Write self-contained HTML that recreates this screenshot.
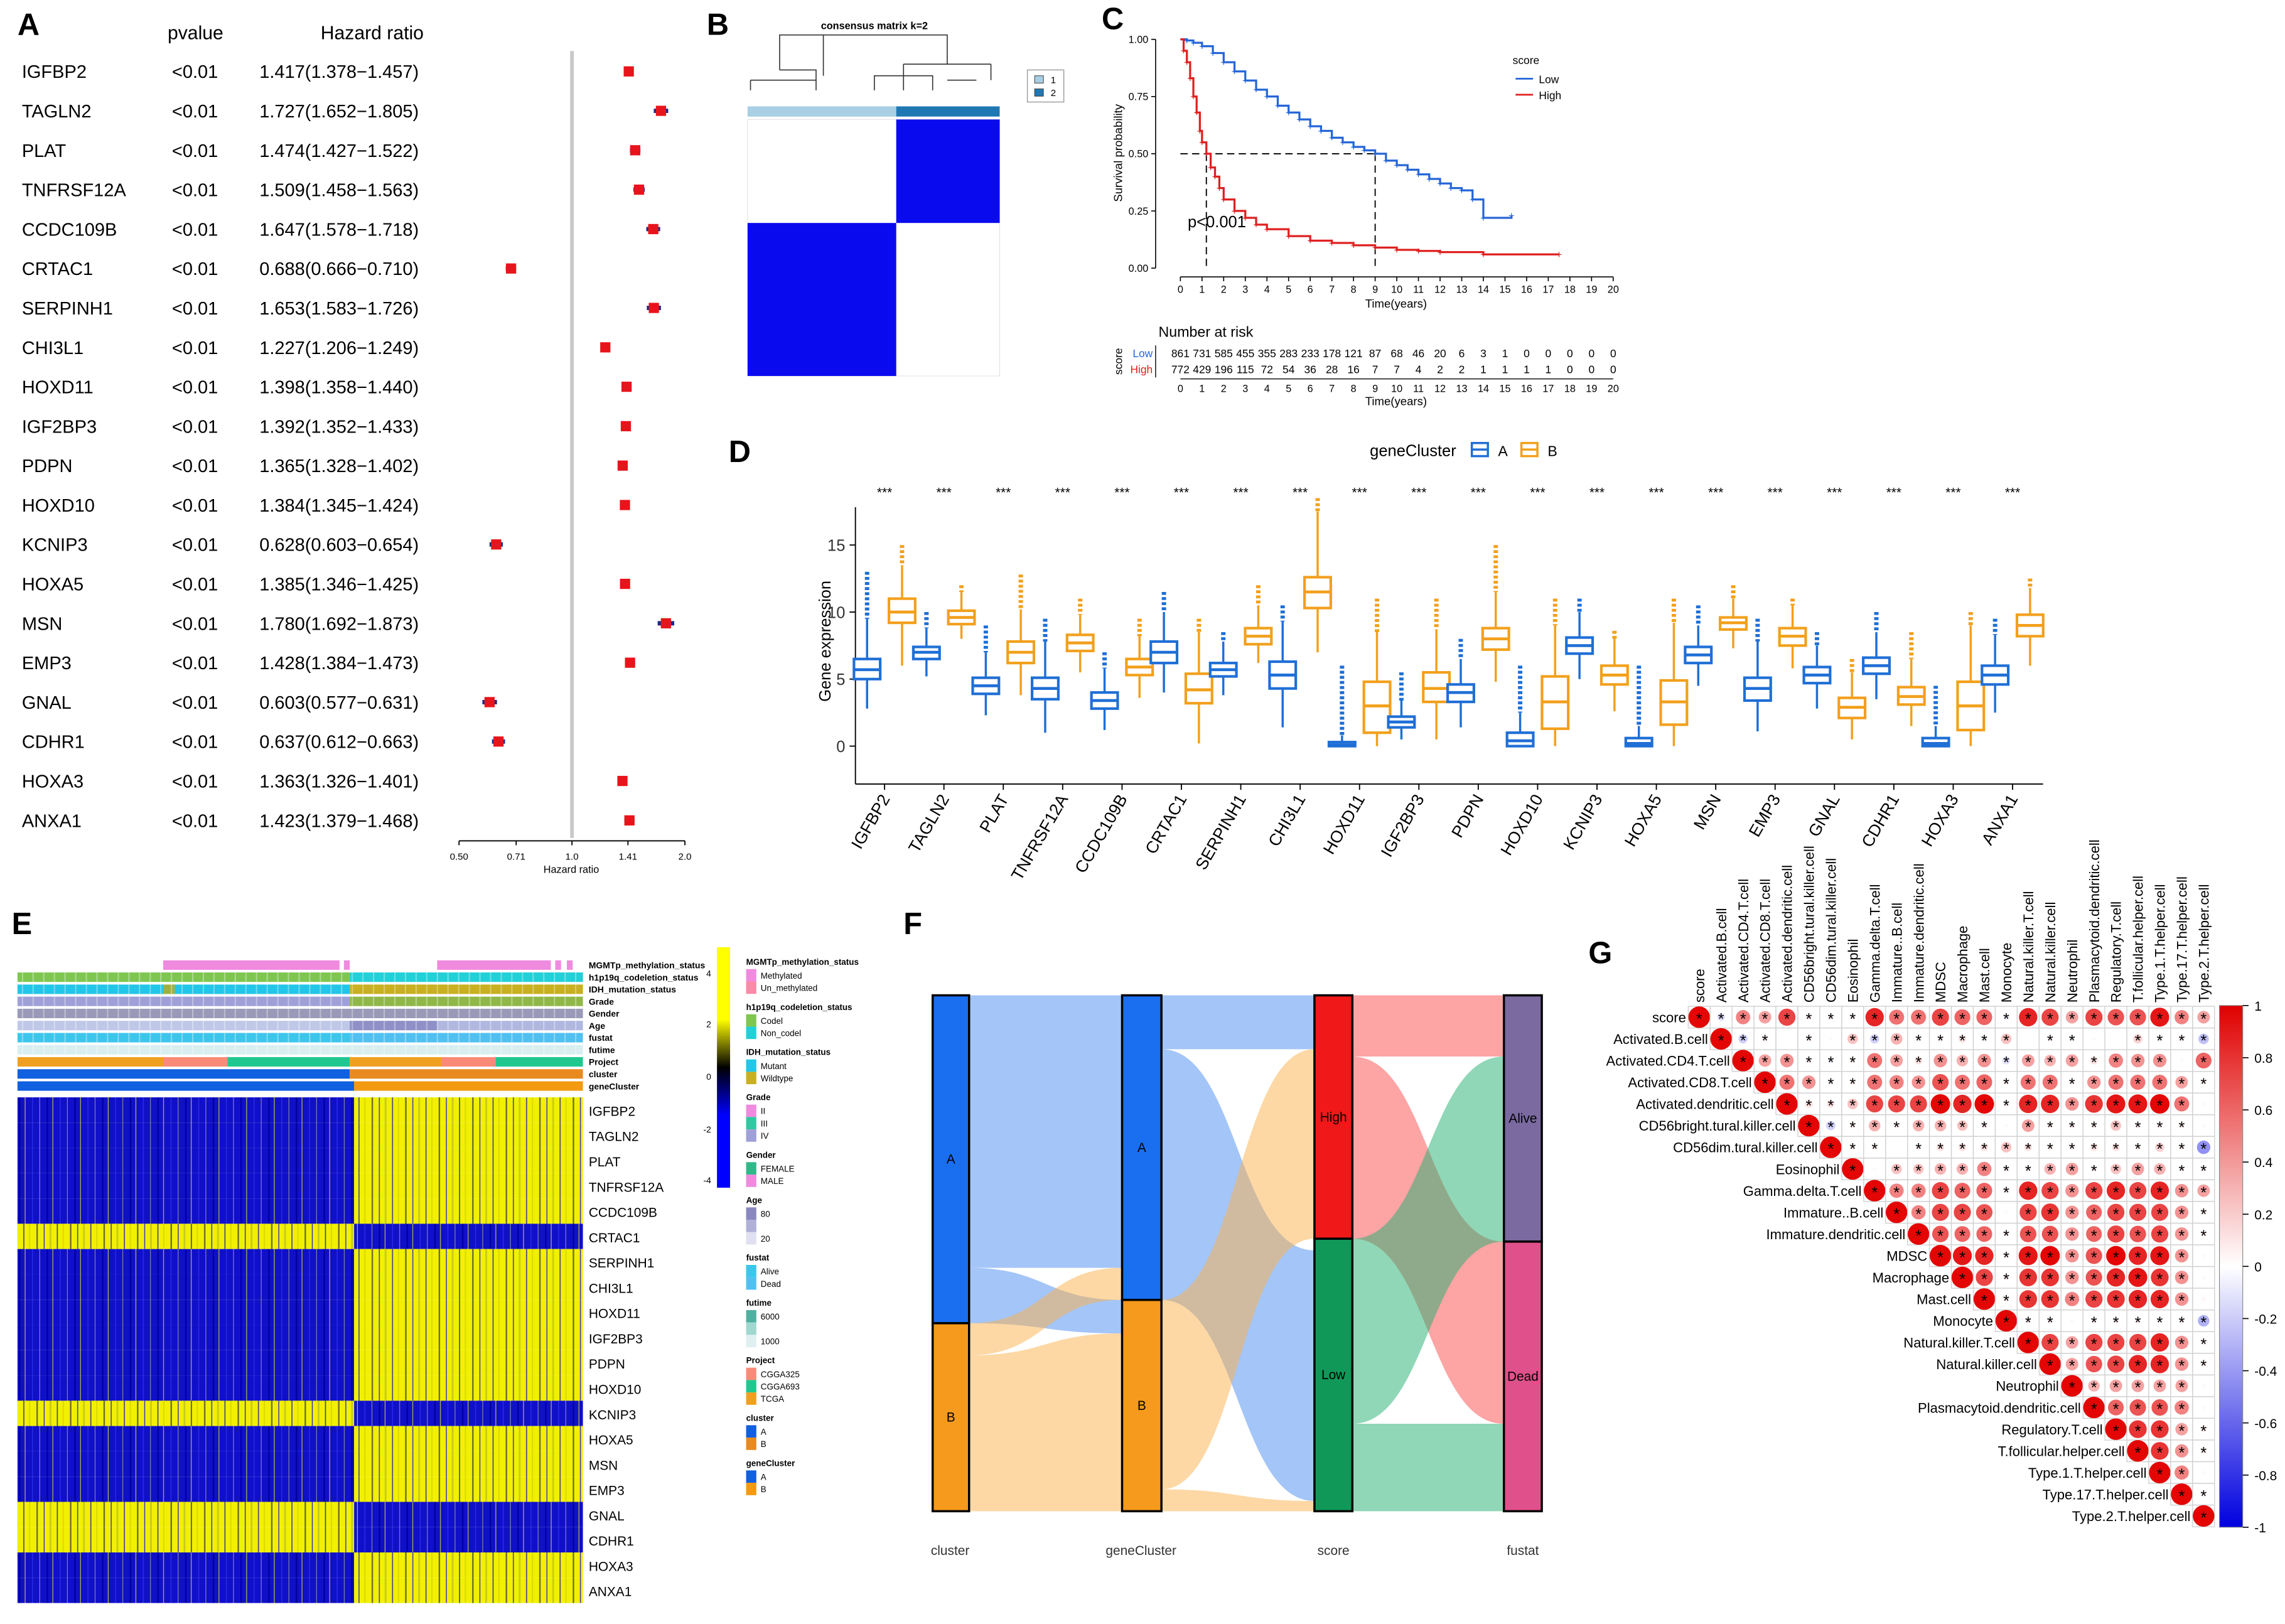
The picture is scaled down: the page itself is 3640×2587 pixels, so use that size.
<!DOCTYPE html>
<html><head><meta charset="utf-8"><style>
html,body{margin:0;padding:0;background:#fff}
svg{display:block;font-family:"Liberation Sans",Arial,sans-serif}
</style></head><body>
<svg id="fig" width="3640" height="2587" viewBox="0 0 1568 1114.4" xmlns="http://www.w3.org/2000/svg">
<defs>
<pattern id="hiPat" width="23" height="10" patternUnits="userSpaceOnUse"><rect width="23" height="10" fill="#f2f000"/><rect x="2" width="1" height="10" fill="#6a6a30"/><rect x="7" width="0.6" height="10" fill="#2a2ad0"/><rect x="11" width="1.2" height="10" fill="#c8c820"/><rect x="16" width="0.7" height="10" fill="#40408a"/><rect x="20" width="0.8" height="10" fill="#d8d800"/></pattern>
<pattern id="loPat" width="19" height="10" patternUnits="userSpaceOnUse"><rect width="19" height="10" fill="#1010c8"/><rect x="3" width="0.7" height="10" fill="#2828e8"/><rect x="8" width="0.5" height="10" fill="#8888a0"/><rect x="13" width="1" height="10" fill="#0000a0"/><rect x="17" width="0.5" height="10" fill="#c0c040"/></pattern>
<linearGradient id="hmBar" x1="0" y1="0" x2="0" y2="1"><stop offset="0" stop-color="#ffff00"/><stop offset="0.3" stop-color="#ffff00"/><stop offset="0.5" stop-color="#000"/><stop offset="0.7" stop-color="#0000ff"/><stop offset="1" stop-color="#0000ff"/></linearGradient>
<linearGradient id="corBar" x1="0" y1="0" x2="0" y2="1"><stop offset="0" stop-color="#e00000"/><stop offset="0.5" stop-color="#ffffff"/><stop offset="1" stop-color="#0000e0"/></linearGradient>
</defs>
<g id="root"></g>
</svg>
<script>
// ---------- Panel A data ----------
const genesA=["IGFBP2","TAGLN2","PLAT","TNFRSF12A","CCDC109B","CRTAC1","SERPINH1","CHI3L1","HOXD11","IGF2BP3","PDPN","HOXD10","KCNIP3","HOXA5","MSN","EMP3","GNAL","CDHR1","HOXA3","ANXA1"];
const hrVals=[1.417,1.727,1.474,1.509,1.647,0.688,1.653,1.227,1.398,1.392,1.365,1.384,0.628,1.385,1.780,1.428,0.603,0.637,1.363,1.423];
const hrLow=[1.378,1.652,1.427,1.458,1.578,0.666,1.583,1.206,1.358,1.352,1.328,1.345,0.603,1.346,1.692,1.384,0.577,0.612,1.326,1.379];
const hrHigh=[1.457,1.805,1.522,1.563,1.718,0.710,1.726,1.249,1.440,1.433,1.402,1.424,0.654,1.425,1.873,1.473,0.631,0.663,1.401,1.468];
const hrTicks=[0.5,0.71,1.0,1.41,2.0];
const hrTickLabels=["0.50","0.71","1.0","1.41","2.0"];
// ---------- Panel C data ----------
const kmLowT=[0,0.3,0.6,1,1.5,2,2.5,3,3.5,4,4.5,5,5.5,6,6.5,7,7.5,8,8.5,9,9.5,10,10.5,11,11.5,12,12.5,13,13.5,14,15.3];
const kmLowS=[1,0.995,0.985,0.97,0.94,0.9,0.86,0.82,0.78,0.75,0.71,0.68,0.65,0.62,0.6,0.57,0.55,0.53,0.515,0.5,0.47,0.45,0.43,0.41,0.39,0.37,0.35,0.34,0.3,0.22,0.23];
const kmHighT=[0,0.15,0.3,0.45,0.6,0.75,0.9,1,1.2,1.4,1.6,1.8,2,2.5,3,3.5,4,5,6,7,8,9,10,11,12,14,17.5];
const kmHighS=[1,0.95,0.9,0.83,0.75,0.68,0.6,0.55,0.5,0.44,0.4,0.35,0.3,0.25,0.22,0.19,0.17,0.14,0.12,0.11,0.1,0.09,0.08,0.075,0.07,0.06,0.06];
const riskLow=[861,731,585,455,355,283,233,178,121,87,68,46,20,6,3,1,0,0,0,0,0];
const riskHigh=[772,429,196,115,72,54,36,28,16,7,7,4,2,2,1,1,1,1,0,0,0];
// ---------- Panel D data ----------
const medA=[5.7,7.0,4.5,4.3,3.4,7.0,5.7,5.3,0.1,1.8,4.0,0.4,7.5,0.2,6.8,4.3,5.3,6.0,0.2,5.3];
const q1A=[5.0,6.5,3.9,3.5,2.8,6.2,5.2,4.3,0,1.4,3.3,0,6.9,0,6.2,3.4,4.7,5.4,0,4.6];
const q3A=[6.5,7.4,5.1,5.1,4.0,7.8,6.2,6.3,0.3,2.2,4.6,1.0,8.1,0.6,7.4,5.1,5.9,6.6,0.6,6.0];
const loA=[2.8,5.2,2.3,1.0,1.2,4.0,3.8,1.4,0,0.5,1.4,0,5.0,0,4.5,1.1,2.8,3.5,0,2.5];
const hiA=[9.5,8.8,7.0,7.8,5.8,10,7.8,9.3,0.8,3.4,6.5,2.5,10,1.5,9.0,7.8,7.5,8.5,1.5,8.3];
const medB=[10.0,9.6,7.0,7.7,5.9,4.2,8.2,11.5,3.0,4.3,8.0,3.3,5.3,3.3,9.2,8.2,2.9,3.7,3.0,9.0];
const q1B=[9.2,9.1,6.2,7.1,5.3,3.2,7.6,10.3,1.0,3.3,7.2,1.3,4.6,1.6,8.7,7.5,2.1,3.1,1.2,8.2];
const q3B=[11.0,10.1,7.8,8.3,6.5,5.4,8.8,12.6,4.8,5.5,8.8,5.2,6.0,4.9,9.6,8.8,3.6,4.4,4.8,9.8];
const loB=[6.0,8.0,3.8,5.5,3.6,0.2,6.2,7.0,0,0.5,4.8,0,2.6,0,7.3,5.8,0.5,1.5,0,6.0];
const hiB=[13.5,11.5,10.2,9.8,8.2,8.5,10.5,17.5,8.5,8.7,11.5,9.0,8.0,9.2,11.0,10.5,5.5,6.5,9.0,11.8];
const outHiA=[13,10,9,9.5,7,11.5,8.5,10.5,6,5.5,8,6,11,6,10.5,9.5,8.5,10,4.5,9.5];
const outHiB=[15,12,12.8,11,9.5,9.5,12,18.5,11,11,15,11,8.6,11,12,11,6.5,8.5,10,12.5];
const yTicksD=[0,5,10,15];
// ---------- Panel E data ----------
const heatDir=[1,1,1,1,1,-1,1,1,1,1,1,1,-1,1,1,1,-1,-1,1,1];
// ---------- Panel G data ----------
const cellNames=["score","Activated.B.cell","Activated.CD4.T.cell","Activated.CD8.T.cell","Activated.dendritic.cell","CD56bright.tural.killer.cell","CD56dim.tural.killer.cell","Eosinophil","Gamma.delta.T.cell","Immature..B.cell","Immature.dendritic.cell","MDSC","Macrophage","Mast.cell","Monocyte","Natural.killer.T.cell","Natural.killer.cell","Neutrophil","Plasmacytoid.dendritic.cell","Regulatory.T.cell","T.follicular.helper.cell","Type.1.T.helper.cell","Type.17.T.helper.cell","Type.2.T.helper.cell"];
const corRows=[
[-0.1,0.4,0.3,0.6,0.05,0.05,0.05,0.7,0.45,0.45,0.6,0.5,0.5,-0.05,0.7,0.6,0.3,0.6,0.55,0.55,0.75,0.4,0.3],
[-0.15,0.05,0,0.05,0.02,0.2,-0.15,0.25,0.05,0.05,0.1,0.05,0.2,0,0.05,0.05,0.02,0,0.15,0.05,0.05,-0.2],
[0.3,0.35,0.05,-0.05,0.05,0.45,0.3,0.1,0.35,0.25,0.35,-0.1,0.3,0.25,0.3,0.1,0.4,0.35,0.35,0.02,0.5],
[0.45,0.35,0.05,0.05,0.45,0.4,0.35,0.55,0.45,0.5,0.05,0.45,0.45,0.05,0.35,0.45,0.45,0.45,0.3,0.05],
[0.1,0.1,0.2,0.6,0.6,0.6,0.8,0.7,0.8,0.05,0.7,0.7,0.35,0.65,0.75,0.75,0.8,0.45,0.02],
[-0.15,0.05,0.25,0.05,0.25,0.25,0.2,0.05,0.02,0.3,0.05,0.05,0.05,0.2,0.05,0.05,0.05,0.02],
[0.05,0.05,0,0.05,0.1,0.1,0.1,0.2,0.1,0.05,0.05,0.1,0.1,0.05,0.15,0.05,-0.35],
[0.02,0.2,0.2,0.25,0.25,0.4,0.05,0.05,0.25,0.3,0.05,0.2,0.3,0.25,0.05,0.05],
[0.4,0.4,0.6,0.5,0.5,0.05,0.7,0.6,0.35,0.6,0.7,0.6,0.7,0.35,0.3],
[0.4,0.6,0.6,0.55,0.02,0.6,0.65,0.35,0.5,0.6,0.6,0.6,0.35,0.05],
[0.55,0.5,0.5,0.05,0.55,0.55,0.35,0.5,0.6,0.55,0.6,0.35,0.05],
[0.75,0.7,0.05,0.75,0.8,0.35,0.55,0.8,0.7,0.75,0.35,0.02],
[0.6,0.05,0.65,0.65,0.35,0.55,0.7,0.75,0.65,0.35,0.02],
[0.05,0.65,0.65,0.4,0.6,0.65,0.7,0.7,0.35,0.03],
[0.05,0.05,0.02,0.05,0.05,0.05,0.05,0.05,-0.25],
[0.6,0.3,0.6,0.6,0.6,0.7,0.35,0.05],
[0.3,0.55,0.6,0.7,0.7,0.35,0.05],
[0.25,0.3,0.3,0.3,0.3,0.02],
[0.5,0.55,0.55,0.4,0.02],
[0.65,0.65,0.3,0.05],
[0.65,0.35,0.05],
[0.4,0.02],
[0.05],
[]
];
const corTicks=[1,0.8,0.6,0.4,0.2,0,-0.2,-0.4,-0.6,-0.8,-1];

const NS="http://www.w3.org/2000/svg";
const root=document.getElementById('root');
function mk(tag,attrs,parent,txt){const e=document.createElementNS(NS,tag);for(const k in attrs)e.setAttribute(k,attrs[k]);if(txt!==undefined)e.textContent=txt;(parent||root).appendChild(e);return e;}
function grp(name){const g=mk('g',{});return g;}
function label(t,x,y,g){const e=mk('text',{x:x,y:y,'font-size':21,'font-weight':'bold'},g,t);}

// ================= Panel A =================
(function(){
const g=grp('panel-a-forest-plot');
label('A',12,24,g);
let t=mk('text',{x:115,y:27,'font-size':13},g,'pvalue');
t=mk('text',{x:220,y:27,'font-size':13},g,'Hazard ratio');
const xs=v=>315+(Math.log2(v)+1)*77.5;
const y0=49,dy=27.05;
mk('line',{x1:xs(1),x2:xs(1),y1:35,y2:575,stroke:'#c8c8c8','stroke-width':2.5},g);
genesA.forEach((gn,i)=>{
 const y=y0+i*dy;
 let e=mk('text',{x:15,y:y+4.5,'font-size':12.5},g,gn);
 e=mk('text',{x:118,y:y+4.5,'font-size':12.5},g,'<0.01');
 e=mk('text',{x:178,y:y+4.5,'font-size':12.5},g,hrVals[i].toFixed(3)+'('+hrLow[i].toFixed(3)+'\u2212'+hrHigh[i].toFixed(3)+')');
 e=mk('line',{x1:xs(hrLow[i]),x2:xs(hrHigh[i]),y1:y,y2:y,stroke:'#1a2a8a','stroke-width':3},g);
 e=mk('rect',{x:xs(hrVals[i])-3.5,y:y-3.5,width:7,height:7,fill:'#e8141c'},g);
});
mk('line',{x1:315,x2:470,y1:577,y2:577,stroke:'#000','stroke-width':0.8},g);
hrTicks.forEach((v,i)=>{mk('line',{x1:xs(v),x2:xs(v),y1:577,y2:580,stroke:'#000','stroke-width':0.8},g);mk('text',{x:xs(v),y:590,'font-size':6.5,'text-anchor':'middle'},g,hrTickLabels[i]);});
mk('text',{x:392,y:599,'font-size':7,'text-anchor':'middle'},g,'Hazard ratio');
})();

// ================= Panel B =================
(function(){
const g=grp('panel-b-consensus-matrix');
label('B',485,24,g);
mk('text',{x:600,y:20,'font-size':7,'font-weight':'bold','text-anchor':'middle'},g,'consensus matrix k=2');
mk('path',{d:'M565,24 V52 M535,48 V24 H650 V44 M620,44 H680 M620,44 V62 M680,44 V55 M515,55 H560 V62 M560,55 V48 H535 M515,55 V62 M600,62 V52 H640 V62 M650,55 H670',stroke:'#333',fill:'none','stroke-width':0.7},g);
mk('rect',{x:513,y:73,width:102,height:7,fill:'#a8cfe3'},g);
mk('rect',{x:615,y:73,width:71,height:7,fill:'#1f78b4'},g);
mk('rect',{x:513,y:82,width:173,height:176,fill:'#fff',stroke:'#ddd','stroke-width':0.4},g);
let e=mk('rect',{x:615,y:82,width:71,height:71,fill:'#0a0aee'},g);
e=mk('rect',{x:513,y:153,width:102,height:105,fill:'#0a0aee'},g);
mk('rect',{x:705,y:48,width:25,height:22,fill:'none',stroke:'#999','stroke-width':0.6},g);
mk('rect',{x:710,y:52,width:6,height:5,fill:'#a8cfe3',stroke:'#333','stroke-width':0.4},g);mk('text',{x:721,y:57,'font-size':6.5},g,'1');
mk('rect',{x:710,y:61,width:6,height:5,fill:'#1f78b4',stroke:'#333','stroke-width':0.4},g);mk('text',{x:721,y:66,'font-size':6.5},g,'2');
})();

// ================= Panel C =================
(function(){
const g=grp('panel-c-km-curve');
label('C',756,20,g);
const X=t=>810+t*14.85, Y=s=>184-s*157;
mk('line',{x1:793,x2:793,y1:27,y2:184,stroke:'#000','stroke-width':0.7},g);
[0,0.25,0.5,0.75,1].forEach(v=>{mk('line',{x1:790,x2:793,y1:Y(v),y2:Y(v),stroke:'#000','stroke-width':0.7},g);mk('text',{x:788,y:Y(v)+2.5,'font-size':7,'text-anchor':'end'},g,v.toFixed(2));});
mk('line',{x1:X(0),x2:X(20),y1:190,y2:190,stroke:'#000','stroke-width':0.7},g);
for(let i=0;i<=20;i++){mk('line',{x1:X(i),x2:X(i),y1:190,y2:193,stroke:'#000','stroke-width':0.7},g);mk('text',{x:X(i),y:201,'font-size':7,'text-anchor':'middle'},g,i);}
mk('text',{x:958,y:211,'font-size':8,'text-anchor':'middle'},g,'Time(years)');
mk('text',{x:770,y:105,'font-size':8,'text-anchor':'middle',transform:'rotate(-90 770 105)'},g,'Survival probability');
mk('path',{d:`M${X(0)},${Y(.5)} H${X(9)} M${X(1.2)},${Y(.5)} V${Y(0)} M${X(9)},${Y(.5)} V${Y(0)}`,stroke:'#000','stroke-dasharray':'5,3',fill:'none','stroke-width':0.8},g);
function step(T,S,col,name){let d=`M${X(T[0])},${Y(S[0])}`;for(let i=1;i<T.length;i++)d+=` H${X(T[i])} V${Y(S[i])}`;const p=mk('path',{d:d,stroke:col,fill:'none','stroke-width':1.4},g);
 for(let i=1;i<T.length;i++){mk('text',{x:X(T[i]),y:Y(S[i])+2.5,'font-size':7,fill:col,'text-anchor':'middle'},g,'+');}}
step(kmLowT,kmLowS,'#2566d8','km-low-curve');step(kmHighT,kmHighS,'#e02020','km-high-curve');
mk('text',{x:815,y:156,'font-size':11},g,'p<0.001');
mk('text',{x:1038,y:44,'font-size':7.5},g,'score');
mk('line',{x1:1040,x2:1052,y1:54,y2:54,stroke:'#2566d8','stroke-width':1.2},g);mk('text',{x:1056,y:57,'font-size':7.5},g,'Low');
mk('line',{x1:1040,x2:1052,y1:65,y2:65,stroke:'#e02020','stroke-width':1.2},g);mk('text',{x:1056,y:68,'font-size':7.5},g,'High');
mk('text',{x:795,y:231,'font-size':10},g,'Number at risk');
mk('text',{x:770,y:248,'font-size':7.5,'text-anchor':'middle',transform:'rotate(-90 770 248)'},g,'score');
mk('text',{x:791,y:245,'font-size':7.5,fill:'#2566d8','text-anchor':'end'},g,'Low');
mk('text',{x:791,y:256,'font-size':7.5,fill:'#e02020','text-anchor':'end'},g,'High');
mk('line',{x1:793,x2:793,y1:237,y2:259,stroke:'#000','stroke-width':0.6},g);
for(let i=0;i<=20;i++){mk('text',{x:X(i),y:245,'font-size':7.5,'text-anchor':'middle'},g,riskLow[i]);mk('text',{x:X(i),y:256,'font-size':7.5,'text-anchor':'middle'},g,riskHigh[i]);
 mk('text',{x:X(i),y:269,'font-size':7,'text-anchor':'middle'},g,i);}
mk('line',{x1:X(0),x2:X(20),y1:260,y2:260,stroke:'#000','stroke-width':0.6},g);
mk('text',{x:958,y:278,'font-size':8,'text-anchor':'middle'},g,'Time(years)');
})();

// ================= Panel D =================
(function(){
const g=grp('panel-d-boxplot');
label('D',500,317,g);
const Y=v=>512-v*9.2, X=i=>607+i*40.74;
mk('text',{x:940,y:313,'font-size':11},g,'geneCluster');
mk('rect',{x:1010,y:304,width:11,height:9,fill:'none',stroke:'#1f6fd6','stroke-width':1.5},g);mk('line',{x1:1010,x2:1021,y1:308.5,y2:308.5,stroke:'#1f6fd6','stroke-width':1.5},g);mk('text',{x:1028,y:313,'font-size':10},g,'A');
mk('rect',{x:1044,y:304,width:11,height:9,fill:'none',stroke:'#f2a01c','stroke-width':1.5},g);mk('line',{x1:1044,x2:1055,y1:308.5,y2:308.5,stroke:'#f2a01c','stroke-width':1.5},g);mk('text',{x:1062,y:313,'font-size':10},g,'B');
mk('line',{x1:587,x2:587,y1:348,y2:538,stroke:'#000','stroke-width':0.8},g);
mk('line',{x1:587,x2:1402,y1:538,y2:538,stroke:'#000','stroke-width':0.8},g);
yTicksD.forEach(v=>{mk('line',{x1:583,x2:587,y1:Y(v),y2:Y(v),stroke:'#000','stroke-width':0.8},g);mk('text',{x:580,y:Y(v)+4,'font-size':11,'text-anchor':'end',fill:'#333'},g,v);});
mk('text',{x:570,y:440,'font-size':11,'text-anchor':'middle',transform:'rotate(-90 570 440)'},g,'Gene expression');
function box(cx,q1,q3,md,lo,hi,oh,col,fill,name){
 const b=grp(name);
 mk('line',{x1:cx,x2:cx,y1:Y(hi),y2:Y(q3),stroke:col,'stroke-width':1.5},b);
 mk('line',{x1:cx,x2:cx,y1:Y(q1),y2:Y(lo),stroke:col,'stroke-width':1.5},b);
 mk('line',{x1:cx,x2:cx,y1:Y(oh),y2:Y(hi),stroke:col,'stroke-width':3,'stroke-dasharray':'2,1.5'},b);
 mk('rect',{x:cx-9,y:Y(q3),width:18,height:Y(q1)-Y(q3),fill:fill,stroke:col,'stroke-width':1.8},b);
 mk('line',{x1:cx-9,x2:cx+9,y1:Y(md),y2:Y(md),stroke:col,'stroke-width':2},b);
}
genesA.forEach((gn,i)=>{
 const cx=X(i);
 box(cx-12,q1A[i],q3A[i],medA[i],loA[i],hiA[i],outHiA[i],'#1f6fd6','#fff','box-a-'+gn.toLowerCase());
 box(cx+12,q1B[i],q3B[i],medB[i],loB[i],hiB[i],outHiB[i],'#f2a01c','#fff','box-b-'+gn.toLowerCase());
 mk('text',{x:cx,y:341,'font-size':9,'text-anchor':'middle'},g,'***');
 mk('line',{x1:cx,x2:cx,y1:538,y2:542,stroke:'#000','stroke-width':0.8},g);
 const e=mk('text',{x:cx+4,y:548,'font-size':11.5,'text-anchor':'end',transform:`rotate(-60 ${cx+4} 548)`},g,gn);
});
})();

// ================= Panel E =================
(function(){
const g=grp('panel-e-heatmap');
label('E',8,641,g);
const xL=12,xM=243,xR=400;
const annNames=["MGMTp_methylation_status","h1p19q_codeletion_status","IDH_mutation_status","Grade","Gender","Age","fustat","futime","Project","cluster","geneCluster"];
const annRows=[
 [[xL,112,'#fff'],[112,233,'#f08adf'],[236,240,'#f08adf'],[300,378,'#f08adf'],[381,385,'#f08adf'],[389,393,'#f08adf']],
 [[xL,240,'#7ec650'],[240,xR,'#22d0d8']],
 [[xL,112,'#22c6e8'],[112,120,'#a0b040'],[120,240,'#22c6e8'],[240,xR,'#c8b020']],
 [[xL,240,'#a0a0d8'],[240,xR,'#90b848']],
 [[xL,xR,'#9a9ab8']],
 [[xL,240,'#c0c8e8'],[240,300,'#9090c8'],[300,xR,'#b0b8e0']],
 [[xL,240,'#3cc6ec'],[240,xR,'#50c0f0']],
 [[xL,xR,'#d8eef0']],
 [[xL,112,'#f0a020'],[112,156,'#fa8a78'],[156,240,'#20c890'],[240,303,'#f0a020'],[303,340,'#fa8a78'],[340,xR,'#20c890']],
 [[xL,240,'#1060e0'],[240,xR,'#e88a20']],
 [[xL,243,'#1060e0'],[243,xR,'#f29a10']]
];
annRows.forEach((row,r)=>{
 const y=659+r*8.3;
 row.forEach(s=>mk('rect',{x:s[0],y:y,width:s[1]-s[0],height:6.5,fill:s[2]},g));
 if(r>=1&&r<=7) for(let x=xL+3;x<xR;x+=7.3) mk('rect',{x:x,y:y,width:0.9,height:6.5,fill:'rgba(255,255,255,0.35)'},g);
 const e=mk('text',{x:404,y:y+5.5,'font-size':6,'font-weight':'bold'},g,annNames[r]);
});
const y0=753,rh=17.35;
genesA.forEach((gn,i)=>{
 const y=y0+i*rh;
 const up=heatDir[i]>0;
 mk('rect',{x:xL,y:y,width:xM-xL,height:rh,fill:up?'url(#loPat)':'url(#hiPat)'},g);
 mk('rect',{x:xM,y:y,width:xR-xM,height:rh,fill:up?'url(#hiPat)':'url(#loPat)'},g);
 const e=mk('text',{x:404,y:y+rh/2+4,'font-size':9},g,gn);
});
mk('rect',{x:492,y:650,width:9,height:165,fill:'url(#hmBar)'},g);
[[4,670],[2,705],[0,741],[-2,777],[-4,812]].forEach(a=>mk('text',{x:488,y:a[1],'font-size':6,'text-anchor':'end'},g,a[0]));
const leg=[["MGMTp_methylation_status",[["Methylated","#f08adf"],["Un_methylated","#fa8aa8"]]],["h1p19q_codeletion_status",[["Codel","#7ec650"],["Non_codel","#22d0d8"]]],["IDH_mutation_status",[["Mutant","#22c6e8"],["Wildtype","#c8b020"]]],["Grade",[["II","#f08adf"],["III","#30c8a0"],["IV","#a0a0d8"]]],["Gender",[["FEMALE","#30b888"],["MALE","#f08adf"]]],["Age",[["80","#8a88c0"],["","#b0b0d8"],["20","#e0e0f0"]]],["fustat",[["Alive","#3cc6ec"],["Dead","#50c0f0"]]],["futime",[["6000","#50b0a0"],["","#a0d8d0"],["1000","#e0f0f0"]]],["Project",[["CGGA325","#fa8a78"],["CGGA693","#20c890"],["TCGA","#f0a020"]]],["cluster",[["A","#1060e0"],["B","#e88a20"]]],["geneCluster",[["A","#1060e0"],["B","#f29a10"]]]];
let ly=662;
leg.forEach(L=>{
 mk('text',{x:512,y:ly,'font-size':5.8,'font-weight':'bold'},g,L[0]);ly+=3;
 L[1].forEach(it=>{mk('rect',{x:512,y:ly,width:7,height:8.5,fill:it[1]},g);if(it[0])mk('text',{x:522,y:ly+6.5,'font-size':5.8},g,it[0]);ly+=8.5;});
 ly+=11;
});
})();

// ================= Panel F =================
(function(){
const g=grp('panel-f-sankey');
label('F',620,641,g);
const cols=[[640,665],[770,797],[902,928],[1032,1058]];
function ribbon(x1,a0,a1,x2,b0,b1,col,name){const m=(x1+x2)/2;const p=mk('path',{d:`M${x1},${a0} C${m},${a0} ${m},${b0} ${x2},${b0} L${x2},${b1} C${m},${b1} ${m},${a1} ${x1},${a1} Z`,fill:col,'fill-opacity':0.5},g);}
const blue='#4a8cf0',orange='#fbb24c',red='#fb4a4a',green='#22b070';
ribbon(665,683,870,770,683,870,blue,'flow-cluster-a-gene-a');
ribbon(665,870,908,770,892,915,blue,'flow-cluster-a-gene-b');
ribbon(665,908,930,770,870,892,orange,'flow-cluster-b-gene-a');
ribbon(665,930,1037,770,915,1037,orange,'flow-cluster-b-gene-b');
ribbon(797,683,720,902,683,720,blue,'flow-gene-a-high');
ribbon(797,720,892,902,858,1030,blue,'flow-gene-a-low');
ribbon(797,892,1022,902,720,850,orange,'flow-gene-b-high');
ribbon(797,1022,1037,902,1030,1037,orange,'flow-gene-b-low');
ribbon(928,683,725,1032,683,725,red,'flow-high-alive');
ribbon(928,725,850,1032,852,977,red,'flow-high-dead');
ribbon(928,850,977,1032,725,852,green,'flow-low-alive');
ribbon(928,977,1037,1032,977,1037,green,'flow-low-dead');
const nodes=[[0,683,908,'#1a6ff0','A'],[0,908,1037,'#f59a1c','B'],[1,683,892,'#1a6ff0','A'],[1,892,1037,'#f59a1c','B'],[2,683,850,'#f01818','High'],[2,850,1037,'#109858','Low'],[3,683,852,'#7a6aa0','Alive'],[3,852,1037,'#e0508a','Dead']];
nodes.forEach(n=>{const c=cols[n[0]];const r=mk('rect',{x:c[0],y:n[1],width:c[1]-c[0],height:n[2]-n[1],fill:n[3],stroke:'#000','stroke-width':1.5},g);
 mk('text',{x:(c[0]+c[1])/2,y:(n[1]+n[2])/2+3,'font-size':9,'text-anchor':'middle'},g,n[4]);});
[['cluster',652],['geneCluster',783],['score',915],['fustat',1045]].forEach(a=>mk('text',{x:a[1],y:1067,'font-size':9,'text-anchor':'middle',fill:'#333'},g,a[0]));
})();

// ================= Panel G =================
(function(){
const g=grp('panel-g-correlation');
label('G',1090,661,g);
const n=cellNames.length,cx0=1166,cy0=698,cw=15.05,ch=14.88;
const X=j=>cx0+j*cw, Y=i=>cy0+i*ch;
function col(v){const a=Math.min(1,Math.abs(v)*1.25);if(v>=0){return `rgb(${Math.round(255-a*(255-228))},${Math.round(255-a*250)},${Math.round(255-a*250)})`;}return `rgb(${Math.round(255-a*250)},${Math.round(255-a*250)},${Math.round(255-a*(255-228))})`;}
for(let i=0;i<n;i++){
 for(let j=i;j<n;j++){
  const v=j===i?1:corRows[i][j-i-1];
  mk('rect',{x:X(j)-cw/2,y:Y(i)-ch/2,width:cw,height:ch,fill:'#fff',stroke:'#d0d0d0','stroke-width':0.6},g);
  const c=mk('circle',{cx:X(j),cy:Y(i),r:7.4*Math.pow(Math.abs(v),0.45),fill:col(v)},g);
  if(Math.abs(v)>0.04) mk('text',{x:X(j),y:Y(i)+5,'font-size':11,'text-anchor':'middle',fill:'#000'},g,'*');
 }
 const e=mk('text',{x:X(i)-9,y:Y(i)+3.5,'font-size':9.5,'text-anchor':'end'},g,cellNames[i]);
 const t=mk('text',{x:X(i)+3.5,y:Y(0)-10,'font-size':9.5,transform:`rotate(-90 ${X(i)+3.5} ${Y(0)-10})`},g,cellNames[i]);
}
mk('rect',{x:1523,y:690,width:16,height:358,fill:'url(#corBar)',stroke:'#888','stroke-width':0.5},g);
corTicks.forEach((v,k)=>{const y=690+k*35.8;mk('line',{x1:1539,x2:1543,y1:y,y2:y,stroke:'#000','stroke-width':0.7},g);mk('text',{x:1547,y:y+3.5,'font-size':9},g,v===0?'0':String(v));});
})();
</script>
</body></html>
